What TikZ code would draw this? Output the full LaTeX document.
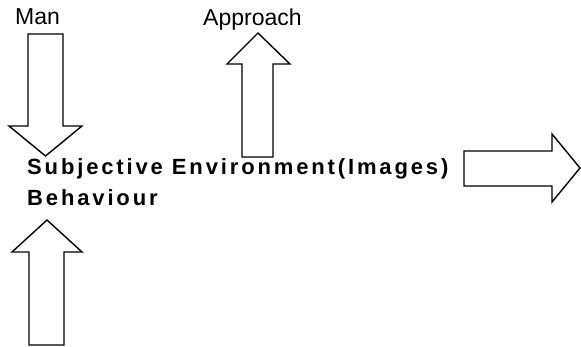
\documentclass[tikz,border=0pt]{standalone}
\usepackage{fontspec}
\setmainfont{Liberation Sans}
\newfontfamily\spacedbold[LetterSpace=13]{Liberation Sans}
\begin{document}
\begin{tikzpicture}[x=1pt,y=-1pt,
  blockarrow/.style={draw=black,line width=1.4pt,fill=white,line join=miter},
  lbl/.style={anchor=base west,inner sep=0pt,font=\fontsize{23}{27}\selectfont},
  maintext/.style={anchor=base west,inner sep=0pt,font=\fontsize{22}{26}\spacedbold\bfseries}]
\useasboundingbox (0,0) rectangle (581,346);
% labels
\node[lbl] (man) at (15,24) {Man};
\node[lbl] (approach) at (203,25) {Approach};
% arrows
\draw[blockarrow] (28,34) -- (63,34) -- (63,126) -- (82,126) -- (45.5,156) -- (9,126) -- (28,126) -- cycle;
\draw[blockarrow] (242,157) -- (273,157) -- (273,64) -- (290,64) -- (258,33) -- (227,64) -- (242,64) -- cycle;
\draw[blockarrow] (29,345) -- (64,345) -- (64,252) -- (82,252) -- (47,220) -- (12,252) -- (29,252) -- cycle;
\draw[blockarrow] (464,151) -- (552,151) -- (552,134) -- (580,168) -- (552,202) -- (552,186) -- (464,186) -- cycle;
% main text
\node[maintext] (subj) at (27,174) {Subjective Environment(Images)};
\node[maintext] (beh) at (27,205) {Behaviour};
\end{tikzpicture}
\end{document}
